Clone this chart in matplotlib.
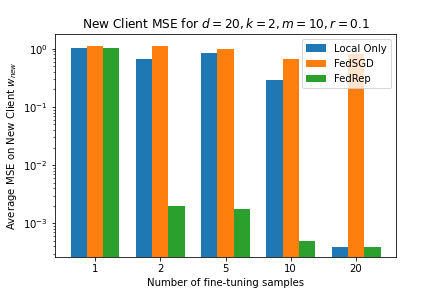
import numpy as np
import matplotlib
matplotlib.use('Agg')
from matplotlib import pyplot as plt

samples = ['1', '2', '5', '10', '20']
local_only = [1.04, 0.68, 0.84, 0.29, 0.00039]
fedsgd = [1.14, 1.10, 0.99, 0.67, 0.81]
fedrep = [1.03, 0.00196, 0.00176, 0.000496, 0.00039]

plt.rcParams['font.size'] = 10.15

fig = plt.figure(figsize=(440 / 72, 294 / 72), dpi=72)
ax = fig.add_subplot(111)
fig.subplots_adjust(left=0.125, right=0.9, top=0.883, bottom=0.126)

x = np.arange(len(samples))
w = 0.25
ax.bar(x - w, local_only, w, label='Local Only')
ax.bar(x, fedsgd, w, label='FedSGD')
ax.bar(x + w, fedrep, w, label='FedRep')

ax.set_yscale('log')
ax.set_ylim(2.64e-4, 1.77)
ax.set_xticks(x)
ax.set_xticklabels(samples)
ax.set_xlabel('Number of fine-tuning samples')
ax.set_ylabel('Average MSE on New Client $w_{new}$')
ax.set_title('New Client MSE for $d=20, k=2, m=10, r=0.1$')
ax.legend(loc='upper right')

fig.savefig('out.png', dpi=72)
